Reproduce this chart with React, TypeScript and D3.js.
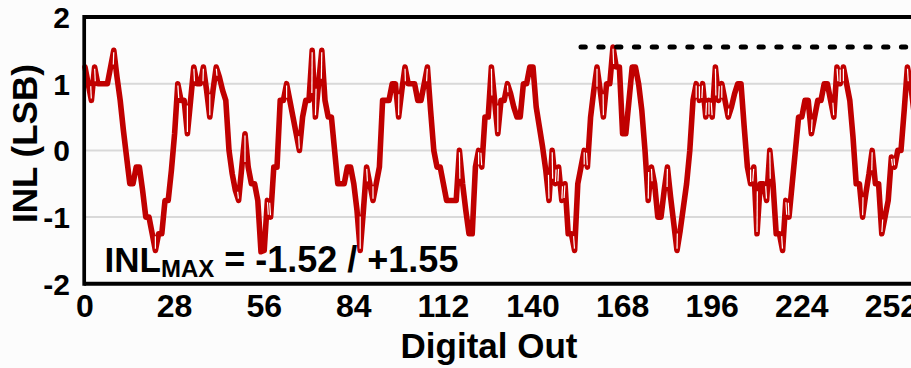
import React from "react";
import * as d3 from "d3";

// INL in LSB for each output code, starting at code 0
const INL_LSB: number[] = [
  1.25, 1.0, 0.75, 1.25, 1.0, 1.0, 1.0, 1.0, 1.25, 1.5,
  1.1, 0.75, 0.3, -0.1, -0.5, -0.5, -0.25, -0.25, -0.6, -1.0,
  -1.0, -1.25, -1.5, -1.25, -1.25, -0.75, -0.75, -0.3, 0.25, 1.0,
  0.75, 0.75, 0.25, 0.75, 1.25, 1.0, 1.0, 1.25, 0.9, 0.5,
  0.9, 1.25, 1.1, 0.9, 0.75, 0.0, -0.35, -0.6, -0.75, -0.25,
  0.25, -0.25, -0.5, -0.5, -0.75, -1.52, -1.5, -0.75, -1.0, -0.25,
  -0.25, 0.75, 0.75, 1.0, 0.75, 0.5, 0.25, 0.0, 0.5, 0.75,
  0.75, 1.5, 0.5, 1.0, 1.5, 0.75, 0.5, 0.5, 0.0, -0.5,
  -0.5, -0.5, -0.25, -0.25, -0.5, -0.9, -1.5, -0.9, -0.25, -0.5,
  -0.75, -0.5, -0.25, 0.75, 0.75, 0.75, 1.0, 1.0, 0.5, 0.9,
  1.25, 1.0, 1.0, 1.0, 0.75, 0.75, 1.0, 1.25, 0.6, 0.0,
  -0.25, -0.25, -0.5, -0.75, -0.75, -0.75, -0.75, 0.0, -0.5, -0.9,
  -1.25, -1.25, -0.25, 0.0, -0.25, 0.5, 0.5, 1.25, 0.75, 0.25,
  0.75, 0.75, 1.0, 0.85, 0.65, 0.5, 0.5, 1.0, 1.0, 1.25,
  1.25, 0.65, 0.35, 0.05, -0.3, -0.75, 0.0, -0.5, -0.25, -0.75,
  -0.5, -1.25, -1.25, -1.5, -0.5, -0.25, 0.0, -0.25, 0.5, 0.9,
  1.25, 0.9, 0.5, 1.0, 1.0, 1.55, 1.25, 1.25, 0.25, 0.25,
  0.75, 1.25, 1.25, 1.0, 0.6, 0.0, -0.75, -0.25, -0.5, -1.0,
  -1.0, -0.6, -0.25, -0.7, -1.1, -1.5, -1.2, -0.85, -0.5, 0.0,
  0.75, 1.0, 0.75, 1.0, 0.5, 0.75, 0.5, 1.25, 0.75, 1.0,
  0.75, 0.5, 0.65, 0.85, 1.0, 1.0, 0.35, -0.25, -0.5, -0.25,
  -1.25, -0.5, -0.5, -0.75, 0.0, -0.5, -1.25, -1.25, -1.5, -0.75,
  -1.0, -0.5, 0.0, 0.5, 0.5, 0.75, 0.75, 0.25, 0.5, 0.75,
  0.75, 1.0, 1.0, 0.75, 0.5, 1.25, 1.0, 1.25, 1.0, 0.75,
  0.2, -0.5, -0.5, -1.0, -0.65, -0.35, 0.0, -0.5, -0.5, -1.25,
  -1.0, -0.75, -0.1, -0.25, 0.0, 0.0, 0.6, 1.25, 1.0, 0.6,
];

const CODE_TICKS: number[] = [0, 28, 56, 84, 112, 140, 168, 196, 224, 252];
const INL_TICKS: number[] = [2, 1, 0, -1, -2];
const INL_GRID: number[] = [1, 0, -1];
const MAX_MARKER_FROM_CODE = 155;

const WIDTH = 911;
const HEIGHT = 368;
const FONT = "'Liberation Sans', Arial, Helvetica, sans-serif";
const RED = "#c00000";
const PLOT_LEFT = 85;
const PLOT_TOP = 17;
const PLOT_BOTTOM = 283.8;
const CODE_PX = 3.2;
const CODE_DOMAIN_END = 280;

type Pt = [number, number];

// Thin light cores along the centre of sharp spikes of the trace.
function spikeCores(pts: Pt[], maxAngleDeg = 40, r0 = 1.8): [number, number, number, number][] {
  const out: [number, number, number, number][] = [];
  for (let i = 1; i < pts.length - 1; i++) {
    const [x0, y0] = pts[i - 1];
    const [x1, y1] = pts[i];
    const [x2, y2] = pts[i + 1];
    const ax = x0 - x1, ay = y0 - y1, bx = x2 - x1, by = y2 - y1;
    const la = Math.hypot(ax, ay), lb = Math.hypot(bx, by);
    if (la === 0 || lb === 0) continue;
    const cos = (ax * bx + ay * by) / (la * lb);
    const ang = Math.acos(Math.max(-1, Math.min(1, cos)));
    if ((ang * 180) / Math.PI > maxAngleDeg) continue;
    let ux = ax / la + bx / lb, uy = ay / la + by / lb;
    const lu = Math.hypot(ux, uy);
    ux /= lu; uy /= lu;
    const len = Math.min(la, lb) * Math.cos(ang / 2) * 0.85;
    if (len <= r0 + 1) continue;
    out.push([x1 + ux * r0, y1 + uy * r0, x1 + ux * len, y1 + uy * len]);
  }
  return out;
}

// Fixed two-decimal value with a plain hyphen for negatives
const fmt2 = (v: number) => v.toFixed(2);

export default function App() {
  const x = d3.scaleLinear().domain([0, CODE_DOMAIN_END]).range([PLOT_LEFT, PLOT_LEFT + CODE_DOMAIN_END * CODE_PX]);
  const y = d3.scaleLinear().domain([-2, 2]).range([PLOT_BOTTOM, PLOT_TOP]);

  const pts: Pt[] = INL_LSB.map((v, i) => [x(i), y(v)]);
  const path = d3.line<Pt>().x((d) => d[0]).y((d) => d[1])(pts) || "";
  const cores = spikeCores(pts);

  const lo = d3.min(INL_LSB) as number;
  const hi = d3.max(INL_LSB) as number;

  return (
    <svg
      width={WIDTH}
      height={HEIGHT}
      viewBox={`0 0 ${WIDTH} ${HEIGHT}`}
      style={{ position: "absolute", left: 0, top: 0, display: "block" }}
      fontFamily={FONT}
      fontWeight="bold"
    >
      <rect x={0} y={0} width={WIDTH} height={HEIGHT} fill="#fcfcfc" />

      {INL_GRID.map((v) => (
        <line key={v} x1={x(0)} x2={WIDTH} y1={y(v)} y2={y(v)} stroke="#d9d9d9" strokeWidth={2} />
      ))}

      <path d={path} fill="none" stroke={RED} strokeWidth={5.6} strokeLinejoin="round" strokeLinecap="round" />
      {cores.map((c, i) => (
        <line key={i} x1={c[0]} y1={c[1]} x2={c[2]} y2={c[3]} stroke="#ffffff" strokeWidth={1.2} strokeLinecap="butt" />
      ))}

      <line
        x1={x(MAX_MARKER_FROM_CODE)}
        x2={x(CODE_DOMAIN_END)}
        y1={y(hi)}
        y2={y(hi)}
        stroke="#000"
        strokeWidth={5}
        strokeDasharray="4.3 13.5"
        strokeLinecap="round"
      />

      <line x1={x(0) - 0.8} x2={WIDTH} y1={PLOT_TOP} y2={PLOT_TOP} stroke="#000" strokeWidth={4} />
      <line x1={x(0) - 0.8} x2={WIDTH} y1={PLOT_BOTTOM} y2={PLOT_BOTTOM} stroke="#000" strokeWidth={4} />
      <line x1={x(0) - 0.8} x2={x(0) - 0.8} y1={PLOT_TOP - 2} y2={PLOT_BOTTOM + 2} stroke="#000" strokeWidth={3.7} />

      {INL_TICKS.map((v) => (
        <text key={v} x={70} y={y(v)} dy="0.36em" textAnchor="end" fontSize={30} fill="#000">
          {String(v)}
        </text>
      ))}
      {CODE_TICKS.map((c) => (
        <text key={c} x={x(c)} y={316.5} textAnchor="middle" fontSize={32} fill="#000">
          {c}
        </text>
      ))}

      <text x={489} y={358} textAnchor="middle" fontSize={35} fill="#000">
        Digital Out
      </text>
      <text transform={`translate(37,143.5) rotate(-90)`} textAnchor="middle" fontSize={35} fill="#000">
        INL (LSB)
      </text>

      <text x={104.5} y={272} fontSize={35} fill="#000">
        INL
        <tspan fontSize={24} dy={5}>MAX</tspan>
        <tspan fontSize={36} dy={-5}>{` = ${fmt2(lo)} / +${fmt2(hi)}`}</tspan>
      </text>
    </svg>
  );
}
